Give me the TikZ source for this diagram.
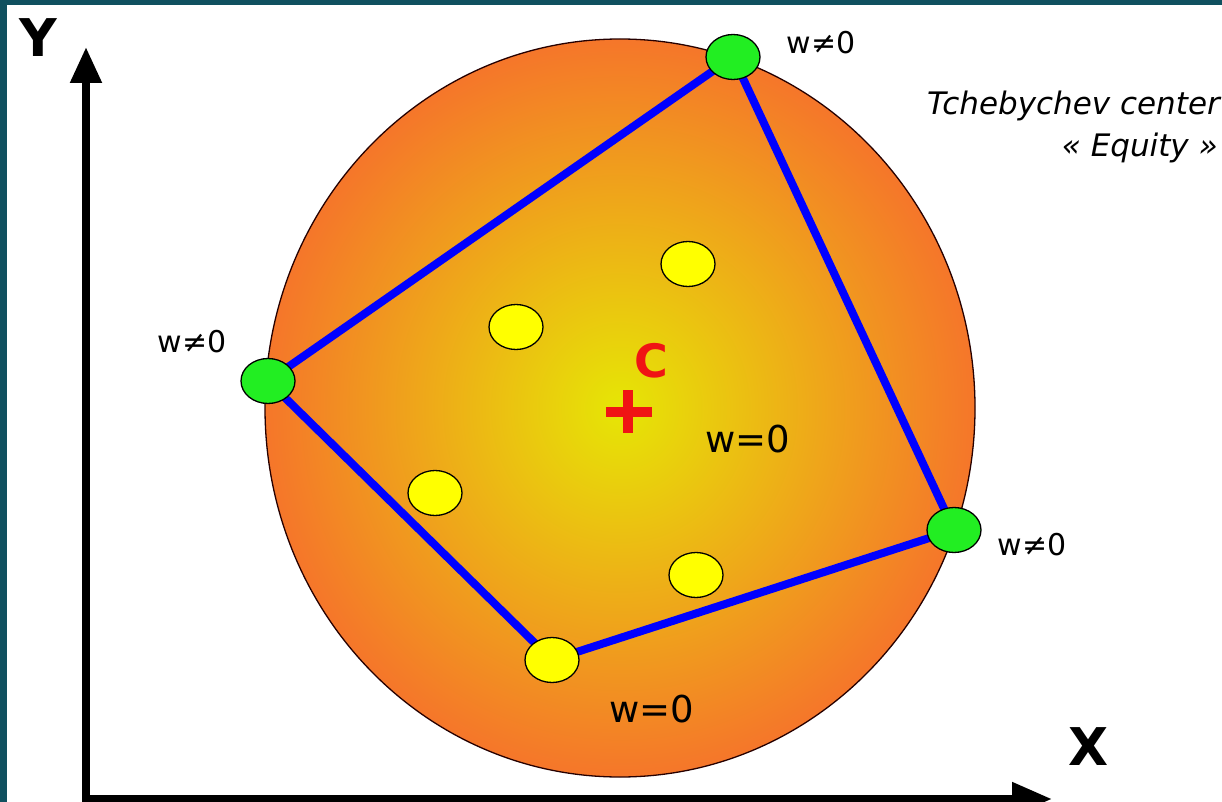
\documentclass[tikz,border=0pt]{standalone}
\usepackage{fontspec}
\setmainfont{DejaVu Sans}
\usetikzlibrary{shapes.geometric,arrows.meta}
\pgfdeclarelayer{disklayer}
\pgfdeclarelayer{edgelayer}
\pgfsetlayers{disklayer,edgelayer,main}
\definecolor{framecol}{RGB}{16,80,95}
\definecolor{diskin}{RGB}{230,230,5}
\definecolor{diskout}{RGB}{245,118,42}
\definecolor{dotgreen}{RGB}{34,238,34}
\definecolor{dotyellow}{RGB}{255,255,0}
\definecolor{edgeblue}{RGB}{0,0,255}
\definecolor{plusred}{RGB}{240,20,20}
\tikzset{
  dotbase/.style={ellipse, draw=black, line width=1.3pt, minimum width=54pt, minimum height=45pt, inner sep=0pt},
  greendot/.style={dotbase, fill=dotgreen},
  yellowdot/.style={dotbase, fill=dotyellow},
  edge/.style={draw=edgeblue, line width=8pt},
  wlabel/.style={anchor=base, inner sep=0pt, font=\fontsize{30}{30}\selectfont},
  wzlabel/.style={anchor=base, inner sep=0pt, font=\fontsize{37}{37}\selectfont},
  axislabel/.style={anchor=base, inner sep=0pt, font=\fontsize{52}{52}\selectfont\bfseries},
  axisline/.style={line width=8pt, line join=miter, {Triangle[width=30pt,length=36pt]}-{Triangle[width=32pt,length=40pt]}},
  titletext/.style={anchor=base east, inner sep=0pt, font=\fontsize{31}{31}\selectfont\itshape}
}
\begin{document}
\begin{tikzpicture}[x=1pt,y=-1pt]
\useasboundingbox (0,0) rectangle (1222,802);
\begin{pgfonlayer}{disklayer}
  \fill[framecol] (0,0) rectangle (1222,802);
  \fill[white] (7,5) rectangle (1222,802);
  \shade[inner color=diskin, outer color=diskout, draw=black!85!red, line width=1.3pt]
    (620,408) ellipse [x radius=355pt, y radius=369pt];
\end{pgfonlayer}
\clip (0,0) rectangle (1222,802);
% vertices
\node[greendot] (top) at (733,57) {};
\node[greendot] (left) at (268,381) {};
\node[greendot] (right) at (954,530) {};
\node[yellowdot] (bottom) at (552,660) {};
% interior points
\node[yellowdot] (p1) at (688,264) {};
\node[yellowdot] (p2) at (516,327) {};
\node[yellowdot] (p3) at (435,493) {};
\node[yellowdot] (p4) at (696,575) {};
\begin{pgfonlayer}{edgelayer}
  \draw[edge] (left.center) -- (top.center);
  \draw[edge] (top.center) -- (right.center);
  \draw[edge] (right.center) -- (bottom.center);
  \draw[edge] (bottom.center) -- (left.center);
\end{pgfonlayer}
% labels
\node[wlabel] (ltop) at (821,54) {w≠0};
\node[wlabel] (lleft) at (192,352) {w≠0};
\node[wlabel] (lright) at (1032,555) {w≠0};
\node[wzlabel] (lmid) at (748,452) {w=0};
\node[wzlabel] (lbot) at (652,722) {w=0};
\node[anchor=base, inner sep=0pt, text=plusred, font=\fontsize{46}{46}\selectfont\bfseries] (clabel) at (651,377) {C};
\draw[plusred, line width=10pt] (606,412) -- (652,412);
\draw[plusred, line width=10pt] (628,390) -- (628,433);
\node[titletext] (title1) at (1220,115) {Tchebychev center};
\node[titletext] (title2) at (1218,157) {« Equity »};
% axes
\coordinate (ytip) at (86,47);
\coordinate (origin) at (86,799);
\coordinate (xtip) at (1052,799);
\draw[axisline] (ytip) -- (origin) -- (xtip);
\node[axislabel] (ylabel) at (38,57) {Y};
\node[axislabel] (xlabel) at (1089,765) {X};
\end{tikzpicture}
\end{document}
